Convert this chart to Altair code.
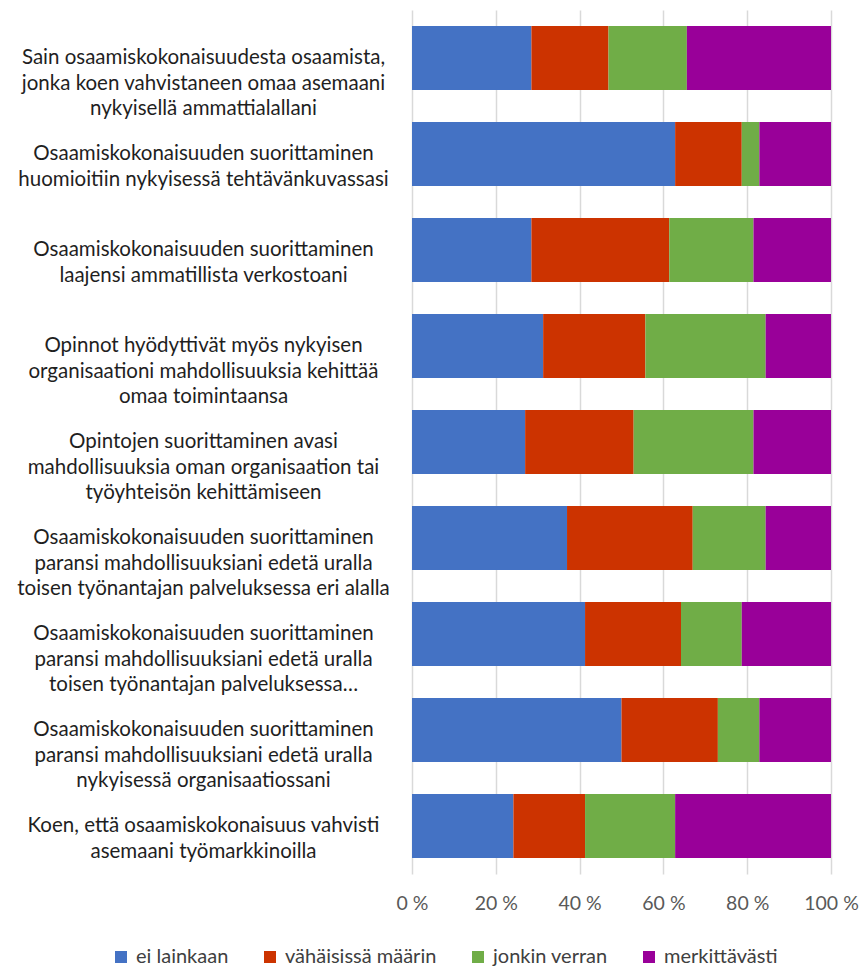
import altair as alt
import pandas as pd

categories = [
    "Sain osaamiskokonaisuudesta osaamista,|jonka koen vahvistaneen omaa asemaani|nykyisellä ammattialallani",
    "Osaamiskokonaisuuden suorittaminen|huomioitiin nykyisessä tehtävänkuvassasi",
    "Osaamiskokonaisuuden suorittaminen|laajensi ammatillista verkostoani",
    "Opinnot hyödyttivät myös nykyisen|organisaationi mahdollisuuksia kehittää|omaa toimintaansa",
    "Opintojen suorittaminen avasi|mahdollisuuksia oman organisaation tai|työyhteisön kehittämiseen",
    "Osaamiskokonaisuuden suorittaminen|paransi mahdollisuuksiani edetä uralla|toisen työnantajan palveluksessa eri alalla",
    "Osaamiskokonaisuuden suorittaminen|paransi mahdollisuuksiani edetä uralla|toisen työnantajan palveluksessa…",
    "Osaamiskokonaisuuden suorittaminen|paransi mahdollisuuksiani edetä uralla|nykyisessä organisaatiossani",
    "Koen, että osaamiskokonaisuus vahvisti|asemaani työmarkkinoilla",
]

series = ["ei lainkaan", "vähäisissä määrin", "jonkin verran", "merkittävästi"]
colors = ["#4472C4", "#CC3300", "#70AD47", "#990099"]

ei_lainkaan = [28.5, 62.8, 28.5, 31.3, 27.0, 37.0, 41.3, 50.0, 24.2]
vahaisissa = [18.4, 15.9, 32.9, 24.4, 25.9, 30.0, 22.9, 23.0, 17.1]
jonkin_verran = [18.7, 4.2, 20.1, 28.7, 28.6, 17.4, 14.5, 9.9, 21.5]
merkittavasti = [34.4, 17.1, 18.5, 15.6, 18.5, 15.6, 21.3, 17.1, 37.2]

x_ticks = [0, 20, 40, 60, 80, 100]

rows = []
for vals, s_i in zip([ei_lainkaan, vahaisissa, jonkin_verran, merkittavasti], range(4)):
    for c, v in zip(categories, vals):
        rows.append({"cat": c, "series": series[s_i], "order": s_i, "value": v})
df = pd.DataFrame(rows)

FONT = "Lato"

chart = alt.Chart(df).mark_bar().encode(
    x=alt.X(
        "value:Q",
        stack="zero",
        scale=alt.Scale(domain=[0, 100], nice=False),
        axis=alt.Axis(
            values=x_ticks,
            labelExpr="datum.value + ' %'",
            title=None,
            domain=False,
            ticks=False,
            tickSize=0,
            grid=True,
            gridColor="#d9d9d9",
            gridWidth=1.5,
            labelFont=FONT,
            labelFontSize=19.5,
            labelColor="#595959",
            labelPadding=20,
            labelBaseline="top",
            labelFlush=False,
            labelOverlap=False,
        ),
    ),
    y=alt.Y(
        "cat:N",
        sort=categories,
        scale=alt.Scale(paddingInner=1 / 3, paddingOuter=1 / 6),
        axis=alt.Axis(
            title=None,
            domain=False,
            ticks=False,
            tickSize=0,
            grid=False,
            labelExpr="split(datum.label, '|')",
            labelAlign="center",
            labelBaseline="middle",
            labelPadding=209,
            labelLimit=0,
            labelFont=FONT,
            labelFontSize=20.5,
            labelLineHeight=25.5,
            labelColor="#1f1f1f",
        ),
    ),
    color=alt.Color(
        "series:N",
        scale=alt.Scale(domain=series, range=colors),
        legend=alt.Legend(
            title=None,
            orient="none",
            direction="horizontal",
            legendX=-301,
            legendY=937,
            symbolType="square",
            symbolSize=144,
            symbolStrokeWidth=0,
            labelFont=FONT,
            labelFontSize=20,
            labelColor="#404040",
            labelOffset=5,
            columnPadding=31,
        ),
    ),
    order=alt.Order("order:Q", sort="ascending"),
).properties(
    width=419,
    height=864,
    padding={"left": 412, "top": 10, "right": 30, "bottom": 92},
    autosize=alt.AutoSizeParams(type="none"),
).configure_view(stroke=None)

chart.save("out.html", embed_options={"renderer": "svg", "actions": False})
